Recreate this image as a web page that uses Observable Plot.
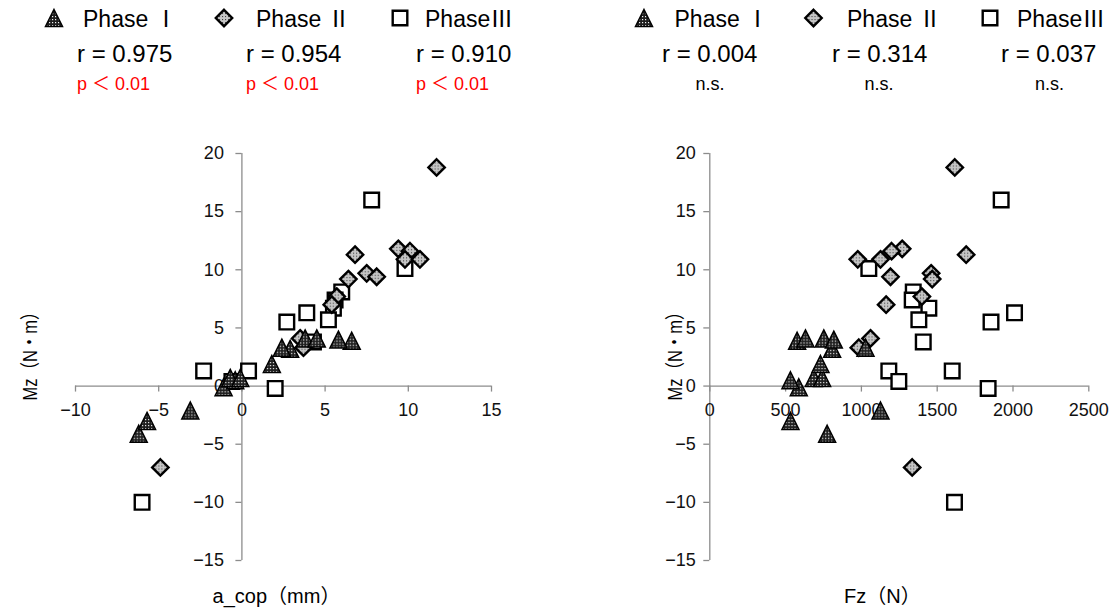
<!DOCTYPE html>
<html>
<head>
<meta charset="utf-8">
<script src="https://cdn.jsdelivr.net/npm/d3@7"></script>
<script src="https://cdn.jsdelivr.net/npm/@observablehq/plot@0.6"></script>
<style>
  html, body { margin: 0; padding: 0; background: #fff; }
  #root { position: relative; width: 1116px; height: 610px; overflow: hidden; background: #fff;
          font-family: "Liberation Sans", "Noto Sans CJK JP", sans-serif; }
  .layer { position: absolute; }
</style>
</head>
<body>
<svg width="0" height="0" style="position:absolute">
  <defs>
    <pattern id="patTri" width="3" height="3" patternUnits="userSpaceOnUse">
      <rect width="3" height="3" fill="#1e1e1e"/>
      <rect x="1" y="1" width="1.2" height="1.2" fill="#f0f0f0"/>
    </pattern>
    <pattern id="patDia" width="3" height="3" patternUnits="userSpaceOnUse">
      <rect width="3" height="3" fill="#c6c6c6"/>
      <rect x="1" y="1" width="1.1" height="1.1" fill="#444"/>
    </pattern>
  </defs>
</svg>
<div id="root"></div>
<script>
// ---------------- DATA ----------------
const phaseNames = ["Phase Ⅰ", "Phase Ⅱ", "PhaseⅢ"];
const acopRText = ["r = 0.975", "r = 0.954", "r = 0.910"];
const acopPText = ["p ＜ 0.01", "p ＜ 0.01", "p ＜ 0.01"];
const fzRText = ["r = 0.004", "r = 0.314", "r = 0.037"];
const fzPText = ["n.s.", "n.s.", "n.s."];

// Phase I (triangles)
const phase1Acop = [-6.2, -5.7, -3.1, -1.1, -0.4, -0.7, -0.1, 1.8, 2.9, 2.4, 6.6, 3.8, 4.5, 5.8];
const phase1Fz   = [774, 532, 1126, 587, 532, 686, 741, 730, 807, 1027, 576, 631, 752, 818];
const phase1Mz   = [-4.1, -3.0, -2.1, -0.1, 0.5, 0.7, 0.7, 1.9, 3.2, 3.3, 3.9, 4.1, 4.1, 4.0];

// Phase II (diamonds)
const phase2Acop = [11.7, 9.4, 10.1, 6.8, 9.8, 10.7, 7.5, 8.1, 6.4, 5.7, 5.4, 3.5, 3.7, -4.9];
const phase2Fz   = [1616, 1269, 1199, 1691, 976, 1126, 1460, 1192, 1467, 1399, 1163, 1060, 983, 1335];
const phase2Mz   = [18.8, 11.8, 11.6, 11.3, 10.9, 10.9, 9.7, 9.4, 9.2, 7.7, 7.0, 4.1, 3.3, -7.0];

// Phase III (squares)
const phase3Acop = [7.8, 9.8, 6.0, 5.6, 5.5, 3.9, 5.2, 2.7, 4.3, -2.3, 0.4, -0.6, 2.0, -6.0];
const phase3Fz   = [1922, 1049, 1342, 1335, 1445, 2010, 1379, 1855, 1408, 1599, 1181, 1247, 1836, 1614];
const phase3Mz   = [16.0, 10.1, 8.1, 7.4, 6.7, 6.3, 5.7, 5.5, 3.8, 1.3, 1.3, 0.4, -0.2, -10.0];

const acopTicks = [-10, -5, 0, 5, 10, 15];
const acopTickLabels = ["−10", "−5", "0", "5", "10", "15"];
const fzTicks = [0, 500, 1000, 1500, 2000, 2500];
const fzTickLabels = ["0", "500", "1000", "1500", "2000", "2500"];
const mzTicks = [-15, -10, -5, 0, 5, 10, 15, 20];
const mzTickLabels = ["−15", "−10", "−5", "0", "5", "10", "15", "20"];

const acopTitle = "a_cop（mm）";
const fzTitle = "Fz（N）";
const mzTitle = "Mz（N・m）";

// ---------------- BUILD ----------------
const rows = (a, f, m) => m.map((mz, i) => ({acop: a[i], fz: f[i], mz}));
const rowsI = rows(phase1Acop, phase1Fz, phase1Mz);
const rowsII = rows(phase2Acop, phase2Fz, phase2Mz);
const rowsIII = rows(phase3Acop, phase3Fz, phase3Mz);

const FONT = '"Liberation Sans", "Noto Sans CJK JP", sans-serif';
const triSym = {draw(ctx, size) { const r = Math.sqrt(size / Math.PI); ctx.moveTo(0, -r); ctx.lineTo(r, r); ctx.lineTo(-r, r); ctx.closePath(); }};
const diaSym = {draw(ctx, size) { const r = Math.sqrt(size / Math.PI); ctx.moveTo(0, -r); ctx.lineTo(r, 0); ctx.lineTo(0, r); ctx.lineTo(-r, 0); ctx.closePath(); }};
const sqSym  = {draw(ctx, size) { const r = Math.sqrt(size / Math.PI); ctx.moveTo(-r, -r); ctx.lineTo(r, -r); ctx.lineTo(r, r); ctx.lineTo(-r, r); ctx.closePath(); }};

const markerStyles = [
  {sym: triSym, r: 8.5, fill: "url(#patTri)", stroke: "#000", strokeWidth: 1.5},
  {sym: diaSym, r: 8.2, fill: "url(#patDia)", stroke: "#000", strokeWidth: 2.4},
  {sym: sqSym,  r: 7.3, fill: "#fff", stroke: "#000", strokeWidth: 2.4}
];

const axisColor = "#8c8c8c";

function scatter(cfg) {
  const [sI, sII, sIII] = markerStyles;
  const svg = Plot.plot({
    width: 558, height: 510,
    marginLeft: cfg.ml, marginRight: cfg.mr, marginTop: 53, marginBottom: 50,
    x: {domain: cfg.xDomain, axis: null},
    y: {domain: [-15, 20], axis: null},
    style: {fontFamily: FONT, background: "transparent", overflow: "visible"},
    marks: [
      Plot.ruleY([0], {stroke: axisColor, strokeWidth: 1.3}),
      Plot.ruleX([0], {stroke: axisColor, strokeWidth: 1.3}),
      Plot.ruleX(cfg.xTicks, {x: d => d, y1: () => 0, y2: () => 0, insetBottom: -6, stroke: axisColor, strokeWidth: 1.3}),
      Plot.ruleY(mzTicks, {y: d => d, x1: () => 0, x2: () => 0, insetLeft: -6, stroke: axisColor, strokeWidth: 1.3}),
      Plot.text(cfg.xTicks, {x: d => d, y: () => 0, dy: 24, text: (d, i) => cfg.xTickLabels[i], fontSize: 18, fill: "#111", lineAnchor: "middle"}),
      Plot.text(mzTicks, {x: () => 0, y: d => d, dx: cfg.yLabelDx, textAnchor: "end", text: (d, i) => mzTickLabels[i], fontSize: 18, fill: "#111", lineAnchor: "middle"}),
      Plot.text([cfg.xTitle], {frameAnchor: "bottom", lineAnchor: "middle", dx: cfg.xTitleDx, dy: 36, fontSize: 20, fill: "#000"}),
      Plot.text([mzTitle], {frameAnchor: "left", textAnchor: "start", lineAnchor: "middle", dx: cfg.yTitleDx, dy: 43.5, rotate: -90, fontSize: 20, fill: "#000"}),
      Plot.dot(rowsIII, {x: cfg.xKey, y: "mz", symbol: sIII.sym, r: sIII.r, fill: sIII.fill, stroke: sIII.stroke, strokeWidth: sIII.strokeWidth}),
      Plot.dot(rowsII, {x: cfg.xKey, y: "mz", symbol: sII.sym, r: sII.r, fill: sII.fill, stroke: sII.stroke, strokeWidth: sII.strokeWidth}),
      Plot.dot(rowsI, {x: cfg.xKey, y: "mz", symbol: sI.sym, r: sI.r, fill: sI.fill, stroke: sI.stroke, strokeWidth: sI.strokeWidth})
    ]
  });
  // narrower vertical title, as in the reference
  d3.select(svg).selectAll("text").filter(function() { return this.textContent === mzTitle; })
    .attr("textLength", 97).attr("lengthAdjust", "spacingAndGlyphs");
  return svg;
}

const root = document.getElementById("root");

const left = scatter({xKey: "acop", xDomain: [-10, 15], xTicks: acopTicks, xTickLabels: acopTickLabels,
  xTitle: acopTitle, ml: 75, mr: 67, yLabelDx: -18, yTitleDx: -45, xTitleDx: -7});
const right = scatter({xKey: "fz", xDomain: [0, 2500], xTicks: fzTicks, xTickLabels: fzTickLabels,
  xTitle: fzTitle, ml: 151.3, mr: 27.7, yLabelDx: -14, yTitleDx: -34, xTitleDx: -17});

for (const [svg, x] of [[left, 0], [right, 558]]) {
  const wrap = document.createElement("div");
  wrap.className = "layer";
  wrap.style.left = x + "px";
  wrap.style.top = "100px";
  wrap.appendChild(svg);
  root.appendChild(wrap);
}

// ---------------- LEGENDS ----------------
const leg = d3.create("svg").attr("width", 1116).attr("height", 100)
  .attr("class", "layer").style("left", "0px").style("top", "0px")
  .style("font-family", FONT);

function drawLegend(pos, rText, pText, pColor) {
  markerStyles.forEach((s, i) => {
    leg.append("path")
      .attr("transform", `translate(${pos.markerX[i]},18)`)
      .attr("d", d3.symbol(s.sym, s.r * s.r * Math.PI)())
      .attr("fill", s.fill).attr("stroke", s.stroke).attr("stroke-width", s.strokeWidth);
    leg.append("text").attr("x", pos.nameX[i]).attr("y", 27)
      .attr("font-size", 23).attr("fill", "#000").text(phaseNames[i]);
    leg.append("text").attr("x", pos.rX[i]).attr("y", 62)
      .attr("font-size", 24).attr("fill", "#000").text(rText[i]);
    leg.append("text").attr("x", pos.pX[i]).attr("y", 90)
      .attr("font-size", 18).attr("fill", pColor).attr("text-anchor", pos.pAnchor).text(pText[i]);
  });
}
drawLegend({markerX: [54, 224, 400], nameX: [83, 256, 425], rX: [77, 246, 416], pX: [77, 246, 416], pAnchor: "start"},
  acopRText, acopPText, "#ff0000");
drawLegend({markerX: [644, 813.5, 990], nameX: [674.5, 847, 1017], rX: [662, 832, 1001], pX: [710, 879, 1049.5], pAnchor: "middle"},
  fzRText, fzPText, "#000");
root.appendChild(leg.node());
</script>
</body>
</html>
